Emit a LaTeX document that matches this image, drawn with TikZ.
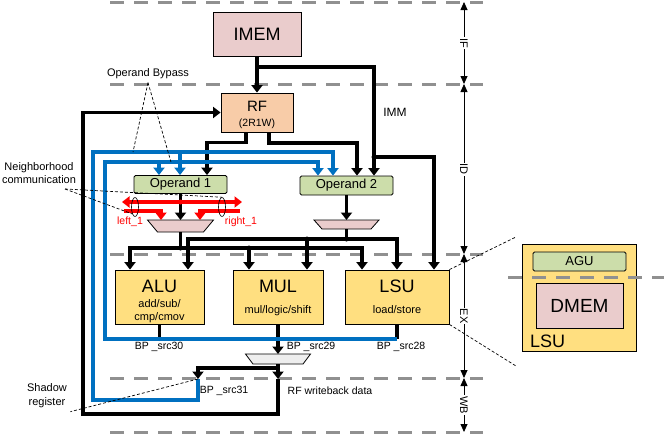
\documentclass[tikz,border=0pt]{standalone}
\usepackage{fontspec}
\setmainfont{Liberation Sans}
\usetikzlibrary{arrows.meta,shapes.geometric}

\definecolor{bpblue}{RGB}{0,112,192}
\definecolor{stagegray}{RGB}{144,144,144}
\definecolor{mempink}{RGB}{234,204,204}
\definecolor{rfpeach}{RGB}{248,204,168}
\definecolor{oplime}{RGB}{204,221,170}
\definecolor{unityellow}{RGB}{255,223,128}
\definecolor{muxgray}{RGB}{238,238,238}

\newcommand{\fsz}[1]{\fontsize{#1}{#1}\selectfont}

\begin{document}
\begin{tikzpicture}[x=1pt, y=-1pt,
    >={Triangle[length=7.5pt,width=11pt]},
    wire/.style={line width=3.2pt},
    bus/.style={line width=4pt, color=bpblue},
    nbr/.style={line width=3.2pt, color=red},
    ptr/.style={line width=0.7pt, dash pattern=on 3pt off 2pt},
    stageline/.style={draw=stagegray, line width=3pt, dash pattern=on 14pt off 10pt},
    phase/.style={line width=0.8pt, {Triangle[length=8pt,width=7pt]}-{Triangle[length=8pt,width=7pt]}},
    phaselbl/.style={fill=white, rotate=-90, inner sep=1pt, font=\fsz{11}},
    box/.style={draw, line width=0.8pt, inner sep=0pt},
    unit/.style={box, fill=unityellow},
    opbox/.style={box, rounded corners=1.5pt, fill=oplime},
    muxshape/.style={draw, line width=0.8pt},
    dot/.style={circle, fill, inner sep=0pt, minimum size=5pt},
    lbl/.style={font=\fsz{10.5}}]
  \useasboundingbox (0,0) rectangle (664,434);

  % stages
  \foreach \y in {2,84,254,378,432}
    \draw[stageline] (110,\y) -- (483,\y);
  \coordinate (s0) at (464,2);
  \coordinate (s1) at (464,84);
  \coordinate (s2) at (464,254);
  \coordinate (s3) at (464,378);
  \coordinate (s4) at (464,432);
  \draw[phase] (s0) -- node[phaselbl] (lif) {IF} (s1);
  \draw[phase] (s1) -- node[phaselbl] (lid) {ID} (s2);
  \draw[phase] (s2) -- node[phaselbl] (lex) {EX} (s3);
  \draw[phase] (s3) -- node[phaselbl] (lwb) {WB} (s4);

  % blocks
  \node[box, fill=mempink, minimum width=88, minimum height=44] (imem) at (257,34) {\fsz{18}IMEM};
  \node[box, fill=rfpeach, minimum width=72, minimum height=39] (rf) at (257,112.5) {};
  \node[anchor=base, font=\fsz{15}] (rft) at (257,111) {RF};
  \node[anchor=base, font=\fsz{10.5}] (rfs) at (257,126) {(2R1W)};
  \node[opbox, minimum width=93, minimum height=18] (op1) at (180.5,184.5) {\fsz{13}Operand 1};
  \node[opbox, minimum width=93, minimum height=19] (op2) at (346.5,185.5) {\fsz{13}Operand 2};
  \draw[muxshape, fill=mempink] (147.5,220) -- (213.5,220) -- (203.5,232) -- (157.5,232) -- cycle;
  \coordinate (mx1n) at (180.5,220);
  \coordinate (mx1s) at (180.5,232);
  \draw[muxshape, fill=mempink] (314,220) -- (379,220) -- (371,229) -- (322,229) -- cycle;
  \coordinate (mx2n) at (346.5,220);
  \coordinate (mx2s) at (346.5,229);
  \node[unit, minimum width=89, minimum height=54] (alu) at (159.5,297) {};
  \node[unit, minimum width=90, minimum height=54] (mul) at (278,297) {};
  \node[unit, minimum width=104, minimum height=54] (lsu) at (397,297) {};
  \node[anchor=base, font=\fsz{18}] (alut) at (159.5,292) {ALU};
  \node[anchor=base, font=\fsz{11}] (alus) at (159.5,307) {add/sub/};
  \node[anchor=base, font=\fsz{11}] (aluc) at (159.5,320) {cmp/cmov};
  \node[anchor=base, font=\fsz{18}] (mult) at (278,292) {MUL};
  \node[anchor=base, font=\fsz{11}] (muls) at (278,313) {mul/logic/shift};
  \node[anchor=base, font=\fsz{18}] (lsut) at (397,292) {LSU};
  \node[anchor=base, font=\fsz{11}] (lsus) at (397,313) {load/store};
  \draw[muxshape, fill=muxgray] (245.5,354) -- (310.5,354) -- (303,364) -- (253,364) -- cycle;
  \coordinate (wbn) at (278,354);
  \coordinate (wbs) at (278,364);

  % LSU detail
  \node[unit, minimum width=114, minimum height=107] (lsub) at (579,297.5) {};
  \node[opbox, minimum width=93, minimum height=19] (agu) at (579.5,261.5) {\fsz{13}AGU};
  \node[box, fill=mempink, minimum width=87, minimum height=45] (dmem) at (579.5,305.5) {\fsz{19}DMEM};
  \node[anchor=base west, inner sep=0pt, font=\fsz{18}] (lsubt) at (530,347) {LSU};
  \draw[stageline] (508,277) -- (664,277);
  \coordinate (zt) at (516,237);
  \coordinate (zb) at (516,366);
  \draw[ptr] (lsu.north east) -- (zt);
  \draw[ptr] (lsu.south east) -- (zb);

  % fetch / decode wires
  \coordinate (immsplit) at (257,67);
  \coordinate (immtap) at (374,157);
  \draw[wire,->] (imem.south) -- (rf.north);
  \draw[wire,->] (immsplit) -| ([xshift=27.5pt]op2.north);
  \draw[wire,->] (immtap) -| ([xshift=37pt]lsu.north);
  \draw[wire,->] ([xshift=-11pt]rf.south) -- ++(0,10) -| ([xshift=26.5pt]op1.north);
  \draw[wire,->] ([xshift=12pt]rf.south) -- ++(0,10.5) -| ([xshift=10.5pt]op2.north);
  \draw[wire,->] (op1.south) -- (mx1n);
  \draw[wire,->] (op2.south) -- (mx2n);

  % execute wires
  \coordinate (bus1) at (180.5,248);
  \coordinate (bus2) at (346.5,239);
  \draw[wire] (mx1s) -- (bus1);
  \draw[wire] (mx2s) -- (bus2);
  \draw[wire,->] (bus1) -| ([xshift=-29.5pt]alu.north);
  \draw[wire,->] (bus1) -| ([xshift=-35pt]lsu.north);
  \draw[wire,->] ([xshift=-29pt]mul.north |- bus1) -- ([xshift=-29pt]mul.north);
  \draw[wire,->] (bus2) -| ([xshift=28.5pt]alu.north);
  \draw[wire,->] (bus2) -| (lsu.north);
  \draw[wire,->] ([xshift=29pt]mul.north |- bus2) -- ([xshift=29pt]mul.north);

  % writeback wires
  \coordinate (bpret) at (105,339);
  \coordinate (shadow) at (198,379);
  \coordinate (wbloop) at (83,414);
  \draw[wire] (alu.south) -- (alu.south |- bpret);
  \draw[wire] (lsu.south) -- (lsu.south |- bpret);
  \draw[wire,->] (mul.south) -- (wbn);
  \draw[wire,->] (wbs) -- (wbs |- shadow);
  \draw[wire,->] ([yshift=-4pt]wbs) -| (shadow);
  \draw[wire,->] (wbs |- shadow) |- (wbloop) |- (rf.west);

  % bypass buses
  \coordinate (bpo) at (93,152);
  \coordinate (bpi) at (105,162);
  \draw[bus,->] (shadow) -- ++(0,21) -| (bpo) -| ([xshift=-13.5pt]op2.north);
  \draw[bus,->] ([xshift=-0.5pt]op1.north |- bpo) -- ([xshift=-0.5pt]op1.north);
  \draw[bus,->] (lsu.south |- bpret) -| (bpi) -| ([xshift=-28.5pt]op2.north);
  \draw[bus,->] ([xshift=-21.5pt]op1.north |- bpi) -- ([xshift=-21.5pt]op1.north);

  % neighbours
  \coordinate (nl) at (122,202);
  \coordinate (nr) at (242,202);
  \coordinate (inl) at (124,211);
  \coordinate (inr) at (240,211);
  \draw[nbr,<->] (nl) -- (nr);
  \draw[nbr,->] (inl) -| ([xshift=-19.5pt]mx1n);
  \draw[nbr,->] (inr) -| ([xshift=19.5pt]mx1n);
  \node[draw, ellipse, line width=0.6pt, minimum width=7, minimum height=19, inner sep=0pt] (elll) at (135,207) {};
  \node[draw, ellipse, line width=0.6pt, minimum width=7, minimum height=19, inner sep=0pt] (ellr) at (222,207) {};

  % junctions
  \node[dot] (j1) at (bus1) {};
  \node[dot] (j2) at (bus2) {};
  \node[dot] (j3) at ([xshift=-29pt]mul.north |- bus1) {};
  \node[dot] (j4) at ([xshift=29pt]mul.north |- bus2) {};
  \node[dot] (j5) at (immtap) {};
  \node[dot, red] (j6) at (op1.south |- nl) {};
  \node[dot, bpblue, minimum size=4pt] (j7) at (alu.south |- bpret) {};
  \node[dot, bpblue, minimum size=4pt] (j8) at (mul.south |- bpret) {};

  % labels
  \node[font=\fsz{12}] (imm) at (395,112) {IMM};
  \node[font=\fsz{11}] (byp) at (148,74) {Operand Bypass};
  \node[align=center, font=\fontsize{11}{13}\selectfont] (nbrl) at (39,173) {Neighborhood\\communication};
  \node[align=center, font=\fontsize{11}{14}\selectfont] (shdl) at (47,396) {Shadow\\register};
  \node[lbl, red] (ll) at (130,222) {left\_1};
  \node[lbl, red] (lr) at (241,222) {right\_1};
  \node[lbl] (b30) at (159,347) {BP \_src30};
  \node[lbl] (b29) at (311,347) {BP \_src29};
  \node[lbl] (b28) at (401,347) {BP \_src28};
  \node[lbl] (b31) at (224,391) {BP \_src31};
  \node[lbl] (wbd) at (330,391) {RF writeback data};
  \coordinate (nbrtip) at (65,189);
  \draw[ptr] (byp.south) -- ([xshift=40pt]bpo);
  \draw[ptr] (byp.south) -- ([xshift=66pt]bpi);
  \draw[ptr] (nbrtip) -- (ellr.north);
  \draw[ptr] (nbrtip) -- (elll.south west);
  \draw[ptr] (shadow) -- (shdl.south east);
\end{tikzpicture}
\end{document}
